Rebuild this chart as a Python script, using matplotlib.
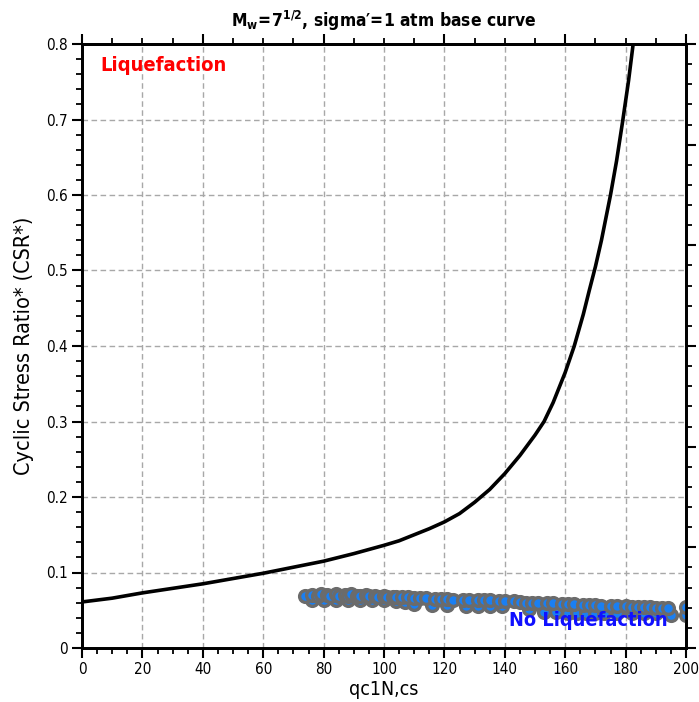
import numpy as np
import matplotlib
matplotlib.use("Agg")
import matplotlib.pyplot as plt
from matplotlib.ticker import MultipleLocator, NullFormatter

# base curve, read along qc1N,cs
curve_qc = [0, 10, 20, 30, 40, 50, 60, 70, 80, 90, 100, 105, 110, 115, 120,
            125, 130, 135, 140, 145, 150, 153, 156, 160, 163, 166, 168, 170,
            172, 175, 177, 179, 181, 182.5, 183.2]
curve_csr = [0.061, 0.066, 0.073, 0.079, 0.085, 0.092, 0.099, 0.107, 0.115,
             0.125, 0.136, 0.142, 0.150, 0.158, 0.167, 0.178, 0.193, 0.210,
             0.231, 0.255, 0.282, 0.300, 0.325, 0.365, 0.400, 0.442, 0.474,
             0.505, 0.540, 0.600, 0.645, 0.697, 0.752, 0.800, 0.830]

# CPT points (upper band)
pts_qc_a = [74, 76, 78, 79, 81, 82, 84, 85, 87, 88, 89, 91, 92, 94, 95, 97,
            98, 100, 101, 103, 104, 106, 108, 110, 112, 114, 117, 119, 121,
            123, 126, 128, 131, 133, 135, 138, 140, 143, 145, 147, 149, 151,
            154, 156, 159, 161, 163, 166, 168, 170, 172, 175, 177, 180, 182,
            184, 186, 188, 190, 192, 194, 200]
pts_csr_a = [0.069, 0.070, 0.069, 0.071, 0.070, 0.069, 0.071, 0.069, 0.070,
             0.069, 0.071, 0.069, 0.069, 0.070, 0.069, 0.069, 0.068, 0.069,
             0.068, 0.068, 0.068, 0.067, 0.067, 0.066, 0.066, 0.066, 0.065,
             0.065, 0.065, 0.064, 0.064, 0.064, 0.063, 0.063, 0.063, 0.062,
             0.062, 0.062, 0.061, 0.060, 0.060, 0.060, 0.059, 0.059, 0.058,
             0.058, 0.058, 0.057, 0.057, 0.057, 0.056, 0.056, 0.055, 0.055,
             0.054, 0.054, 0.054, 0.054, 0.053, 0.053, 0.053, 0.054]

# CPT points (lower band)
pts_qc_b = [76, 80, 84, 88, 92, 96, 100, 104, 107, 110, 116, 121, 127, 131,
            135, 139, 148, 153, 157, 161, 164, 167, 170, 173, 177, 182, 186,
            190, 195, 200]
pts_csr_b = [0.064, 0.063, 0.064, 0.063, 0.064, 0.063, 0.063, 0.062, 0.061,
             0.058, 0.057, 0.057, 0.056, 0.056, 0.055, 0.055, 0.051, 0.048,
             0.048, 0.047, 0.047, 0.047, 0.047, 0.047, 0.046, 0.046, 0.046,
             0.046, 0.044, 0.044]

plt.rcParams['font.family'] = ['DejaVu Sans']
plt.rcParams['font.stretch'] = 'condensed'
plt.rcParams['mathtext.fontset'] = 'custom'
plt.rcParams['mathtext.rm'] = 'DejaVu Sans:stretch=condensed'
plt.rcParams['mathtext.bf'] = 'DejaVu Sans:bold:stretch=condensed'
plt.rcParams['mathtext.it'] = 'DejaVu Sans:italic:stretch=condensed'

fig = plt.figure(figsize=(6.99, 7.02), dpi=100)
ax = fig.add_axes([82 / 699, 54 / 702, 604 / 699, 604 / 702])

ax.grid(True, color='#a8a8a8', linestyle=(0, (4, 2.5)), linewidth=1.0)
ax.set_axisbelow(True)

ax.plot(curve_qc, curve_csr, color='black', linewidth=2.6, zorder=3,
        solid_joinstyle='round')

for q, c in ((pts_qc_b, pts_csr_b), (pts_qc_a, pts_csr_a)):
    ax.scatter(q, c, s=72, facecolor='#1a7ff2', edgecolor='#6b6b6b',
               linewidths=2.4, zorder=4, clip_on=True)

ax.set_xlim(0, 200)
ax.set_ylim(0, 0.8)

ax.xaxis.set_major_locator(MultipleLocator(20))
ax.xaxis.set_minor_locator(MultipleLocator(5))
ax.yaxis.set_major_locator(MultipleLocator(0.1))
ax.yaxis.set_minor_locator(MultipleLocator(0.02))
ax.yaxis.set_major_formatter(lambda v, p: '0' if v == 0 else f'{v:.1f}')
ax.tick_params(which='major', direction='out', length=7, width=1.5,
               labelsize=11, pad=3)
ax.tick_params(which='minor', direction='out', length=4.5, width=1.3)

for sp in ax.spines.values():
    sp.set_linewidth(2.0)

# top scale: ticks only
top = ax.secondary_xaxis('top')
top.xaxis.set_major_locator(MultipleLocator(40))
top.xaxis.set_minor_locator(MultipleLocator(10))
top.xaxis.set_major_formatter(NullFormatter())
top.tick_params(which='major', direction='out', length=7, width=1.5)
top.tick_params(which='minor', direction='out', length=4.5, width=1.3)
top.spines['top'].set_linewidth(2.0)

# right scale: ticks only
right = ax.twinx()
right.set_ylim(0, 6)
right.yaxis.set_major_locator(MultipleLocator(1))
right.yaxis.set_minor_locator(MultipleLocator(0.2))
right.yaxis.set_major_formatter(NullFormatter())
right.tick_params(which='major', direction='out', length=7, width=1.5)
right.tick_params(which='minor', direction='out', length=4.5, width=1.3)
for sp in right.spines.values():
    sp.set_linewidth(2.0)

ax.set_xlabel('qc1N,cs', fontsize=14, labelpad=2)
ax.set_ylabel('Cyclic Stress Ratio* (CSR*)', fontsize=15.5, labelpad=9)
ax.set_title(r"$\mathbf{M_w\!=\!7^{1/2}}$, sigma" + "\u2032" + "=1 atm base curve",
             fontsize=12.5, fontweight='bold', pad=12)

ax.text(6, 0.772, 'Liquefaction', color='red', fontsize=14.5,
        fontweight='bold', va='center', ha='left', zorder=5)
ax.text(194, 0.036, 'No Liquefaction', color='#1010ff', fontsize=14.3,
        fontweight='bold', va='center', ha='right', zorder=5)

fig.savefig('out.png', dpi=100)
